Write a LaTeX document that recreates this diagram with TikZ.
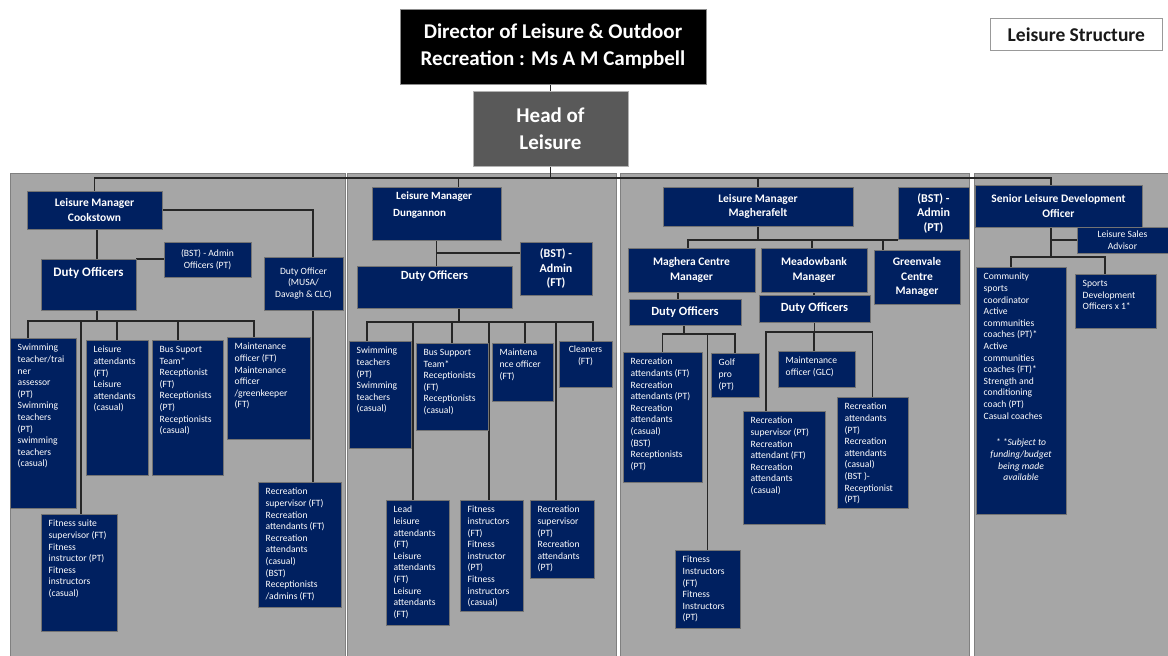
\documentclass[tikz,border=0pt]{standalone}
\usepackage{fontspec}
\setmainfont{Carlito}
\usetikzlibrary{calc}
\definecolor{navy}{HTML}{002060}
\definecolor{panelgray}{HTML}{A6A6A6}
\definecolor{headgray}{HTML}{595959}
\pgfdeclarelayer{panels}
\pgfdeclarelayer{lines}
\pgfsetlayers{panels,lines,main}
\newcommand\fSmall{\fontsize{9.6}{11.6}\selectfont}
\newcommand\fHead{\bfseries\fontsize{11.5}{14.5}\selectfont}
\newcommand\fBst{\bfseries\fontsize{12}{14.5}\selectfont}
\newcommand\fDO{\bfseries\fontsize{12.5}{15}\selectfont}
\newcommand\fBig{\bfseries\fontsize{21}{27.5}\selectfont}
\tikzset{
  bx/.style={draw=black!55, line width=0.7pt, fill=navy, inner sep=0pt, outer sep=0pt},
  txtl/.style={text=white, font=\fSmall, align=left, inner sep=0pt},
  txtc/.style={text=white, align=center, inner sep=0pt},
  cn/.style={draw=black!85, line width=1.4pt},
  panel/.style={fill=panelgray, draw=black!50, line width=0.8pt}
}
% box with left-aligned text at top
\newcommand\ob[7][]{%
  \pgfmathsetmacro\obw{#5-#3}\pgfmathsetmacro\obh{#6-#4}%
  \node[bx,#1,minimum width=\obw pt,minimum height=\obh pt,anchor=north west] (#2) at (#3,#4) {};
  \node[txtl,anchor=north west] at ([xshift=7.5pt,yshift=-6pt]#2.north west) {#7};}
% box with centred text in the middle
\newcommand\oc[8][]{%
  \pgfmathsetmacro\obw{#5-#3}\pgfmathsetmacro\obh{#6-#4}%
  \node[bx,#1,minimum width=\obw pt,minimum height=\obh pt,anchor=north west] (#2) at (#3,#4) {};
  \node[txtc,font=#7] at (#2.center) {#8};}
% box with centred text at top
\newcommand\ot[9][]{%
  \pgfmathsetmacro\obw{#5-#3}\pgfmathsetmacro\obh{#6-#4}%
  \node[bx,#1,minimum width=\obw pt,minimum height=\obh pt,anchor=north west] (#2) at (#3,#4) {};
  \node[txtc,font=#7,anchor=north] at ([yshift=-#8pt]#2.north) {#9};}
% tree connector: parent point, bar level, child, xshift at child
\newcommand\tconn[4]{\draw[cn] (#1) -- (#1 |- #2) -| ([xshift=#4pt]#3.north);}

\begin{document}
\begin{tikzpicture}[x=1pt,y=-1pt]
\useasboundingbox (0,0) rectangle (1168,656);
\begin{pgfonlayer}{panels}
  \fill[white] (0,0) rectangle (1168,656);
  \draw[panel] (10,173) rectangle (345,662);
  \draw[panel] (347.5,173) rectangle (616,662);
  \draw[panel] (620,173) rectangle (969,662);
  \draw[panel] (974,173) rectangle (1172,662);
\end{pgfonlayer}

% ---------- top ----------
\oc[fill=black,draw=black!45]{dir}{400}{9}{706}{84}{\fBig}{Director of Leisure \& Outdoor\\Recreation : Ms A M Campbell}
\oc[fill=headgray,draw=black!30]{hol}{473}{91}{628}{166}{\fBig}{Head of\\Leisure}
\node[draw=black!40, line width=0.7pt, fill=white, minimum width=172pt, minimum height=32pt, anchor=north west, inner sep=0pt] (ls) at (990,18) {};
\node[text=black!90, font=\bfseries\fontsize{19.5}{22}\selectfont, inner sep=0pt] at (ls.center) {Leisure Structure};

% ---------- Cookstown ----------
\oc{cMgr}{27}{191}{162}{229}{\fHead}{Leisure Manager\\Cookstown}
\ot{cDO}{41}{259}{136}{310}{\bfseries\fontsize{13}{15}\selectfont}{8}{Duty Officers}
\oc{cBst}{164}{242}{251}{277}{\fSmall}{(BST) - Admin\\Officers (PT)}
\oc{cMusa}{264}{257}{343}{310}{\fSmall}{Duty Officer\\(MUSA/\\Davagh \& CLC)}
\ob{cSw}{10}{338}{76}{508}{Swimming\\teacher/trai\\ner\\assessor\\(PT)\\Swimming\\teachers\\(PT)\\swimming\\teachers\\(casual)}
\ob{cLa}{86}{340}{148}{475}{Leisure\\attendants\\(FT)\\Leisure\\attendants\\(casual)}
\ob{cBus}{152}{340}{223}{475}{Bus Suport\\Team*\\Receptionist\\(FT)\\Receptionists\\(PT)\\Receptionists\\(casual)}
\ob{cMnt}{227}{337}{310}{439}{Maintenance\\officer (FT)\\Maintenance\\officer\\/greenkeeper\\(FT)}
\ob{cFit}{41}{514}{117}{631}{Fitness suite\\supervisor (FT)\\Fitness\\instructor (PT)\\Fitness\\instructors\\(casual)}
\ob{cRec}{258}{482}{341}{607}{Recreation\\supervisor (FT)\\Recreation\\attendants (FT)\\Recreation\\attendants\\(casual)\\(BST)\\Receptionists\\/admins (FT)}

% ---------- Dungannon ----------
\oc{dMgr}{372}{187}{501}{240}{\fHead}{}
\node[txtl, font=\bfseries\fontsize{11}{17}\selectfont, anchor=north west] at ([xshift=21pt,yshift=-5pt]dMgr.north west) {\hspace*{3pt}Leisure Manager\\Dungannon};
\ot{dDO}{357}{266}{512}{308}{\fDO}{5}{Duty Officers}
\oc{dBst}{520}{242}{592}{295}{\fBst}{(BST) -\\Admin\\(FT)}
\ob{dSw}{349}{341}{411}{448}{Swimming\\teachers\\(PT)\\Swimming\\teachers\\(casual)}
\ob{dBus}{416}{343}{488}{430}{Bus Support\\Team*\\Receptionists\\(FT)\\Receptionists\\(casual)}
\ob{dMnt}{492}{343}{553}{401}{Maintena\\nce officer\\(FT)}
\ot{dCl}{559}{341}{612}{387}{\fSmall}{5}{Cleaners\\(FT)}
\ob{dLead}{386}{500}{449}{625}{Lead\\leisure\\attendants\\(FT)\\Leisure\\attendants\\(FT)\\Leisure\\attendants\\(FT)}
\ob{dFit}{460}{500}{523}{611}{Fitness\\instructors\\(FT)\\Fitness\\instructor\\(PT)\\Fitness\\instructors\\(casual)}
\ob{dRec}{530}{500}{594}{578}{Recreation\\supervisor\\(PT)\\Recreation\\attendants\\(PT)}

% ---------- Magherafelt ----------
\oc{mMgr}{663}{187}{853}{226}{\fHead}{Leisure Manager\\Magherafelt}
\oc{mBst}{898}{187}{969}{239}{\fBst}{(BST) -\\Admin\\(PT)}
\oc{mMag}{628}{248}{755}{292}{\fHead}{Maghera Centre\\Manager}
\oc{mMea}{761}{248}{867}{292}{\fHead}{Meadowbank\\Manager}
\oc{mGrn}{874}{250}{960}{304}{\fHead}{Greenvale\\Centre\\Manager}
\oc{mMagDO}{629}{299}{741}{325}{\fDO}{Duty Officers}
\oc{mMeaDO}{759}{295}{870}{322}{\fDO}{Duty Officers}
\ob{mRa}{623}{352}{702}{482}{Recreation\\attendants (FT)\\Recreation\\attendants (PT)\\Recreation\\attendants\\(casual)\\(BST)\\Receptionists\\(PT)}
\ob{mGolf}{711}{353}{759}{397}{Golf\\pro\\(PT)}
\ob{mFit}{675}{550}{740}{628}{Fitness\\Instructors\\(FT)\\Fitness\\Instructors\\(PT)}
\ob{mMnt}{778}{351}{855}{387}{Maintenance\\officer (GLC)}
\ob{mRs}{743}{411}{825}{524}{Recreation\\supervisor (PT)\\Recreation\\attendant (FT)\\Recreation\\attendants\\(casual)}
\ob{mRa2}{837}{397}{908}{508}{Recreation\\attendants\\(PT)\\Recreation\\attendants\\(casual)\\(BST )-\\Receptionist\\(PT)}

% ---------- Sports development ----------
\oc{sSldo}{975}{185}{1142}{227}{\fHead}{Senior Leisure Development\\Officer}
\oc{sSales}{1077}{227}{1168}{253}{\fSmall}{Leisure Sales\\Advisor}
\ob{sCom}{976}{267}{1066}{514}{Community\\sports\\coordinator\\Active\\communities\\coaches (PT)*\\Active\\communities\\coaches (FT)*\\Strength and\\conditioning\\coach (PT)\\Casual coaches}
\node[txtc, font=\fSmall\itshape] at ([yshift=54pt]sCom.south) {* *Subject to\\funding/budget\\being made\\available};
\ob{sSpo}{1075}{274}{1156}{328}{Sports\\Development\\Officers x 1*}

% ---------- connectors ----------
\begin{pgfonlayer}{lines}
  \coordinate (topbar) at (0,178);
  \draw[cn] (hol.north |- dir.south) -- (hol.north);
  \draw[cn] (hol.south) -- (hol.south |- topbar);
  \draw[cn] (hol.south |- topbar) -| (cMgr.north);
  \draw[cn] (hol.south |- topbar) -| ([xshift=22pt]dMgr.north);
  \draw[cn] (hol.south |- topbar) -| (mMgr.north);
  \draw[cn] (hol.south |- topbar) -| ([xshift=-7.5pt]sSldo.north);

  % Cookstown
  \draw[cn] (cMgr.east) -| ([xshift=9.5pt]cMusa.north);
  \coordinate (cMgrs) at ([xshift=2.5pt]cMgr.south);
  \draw[cn] (cMgrs) -- (cMgrs |- cDO.north);
  \draw[cn] (cDO.north east) -- (cDO.north east -| cBst.west);
  \coordinate (cbar) at (0,321);
  \coordinate (cDOs) at ([xshift=8.5pt]cDO.south);
  \tconn{cDOs}{cbar}{cSw}{-15}
  \tconn{cDOs}{cbar}{cLa}{0}
  \tconn{cDOs}{cbar}{cBus}{-9.5}
  \tconn{cDOs}{cbar}{cMnt}{-14.5}
  \tconn{cDOs}{cbar}{cFit}{2}
  \coordinate (cMusas) at ([xshift=9.5pt]cMusa.south);
  \draw[cn] (cMusas) -- (cMusas |- cRec.north);

  % Dungannon
  \draw[cn] (dMgr.south) -- (dMgr.south |- dDO.north);
  \coordinate (dB) at ([yshift=15.5pt]dBst.west);
  \draw[cn] (dB) -- (dB -| dMgr.south);
  \coordinate (dbar) at (0,322);
  \coordinate (dDOs) at ([xshift=24.5pt]dDO.south);
  \tconn{dDOs}{dbar}{dSw}{-13}
  \tconn{dDOs}{dbar}{dLead}{-4.5}
  \tconn{dDOs}{dbar}{dBus}{0}
  \tconn{dDOs}{dbar}{dFit}{-2.5}
  \tconn{dDOs}{dbar}{dMnt}{2.5}
  \tconn{dDOs}{dbar}{dRec}{-6}
  \tconn{dDOs}{dbar}{dCl}{7.5}

  % Magherafelt
  \coordinate (mbar1) at (0,240);
  \tconn{mMgr.south}{mbar1}{mMag}{-3.5}
  \tconn{mMgr.south}{mbar1}{mMea}{-2}
  \tconn{mMgr.south}{mbar1}{mGrn}{-34}
  \draw[cn] (mMgr.south |- mbar1) -- (mbar1 -| mBst.south west);
  \coordinate (mMags) at ([xshift=-13.5pt]mMag.south);
  \draw[cn] (mMags) -- (mMags |- mMagDO.north);
  \draw[cn] (mMea.south) -- (mMea.south |- mMeaDO.north);
  \coordinate (mbar2) at (0,334);
  \coordinate (mMagDOs) at ([xshift=-1pt]mMagDO.south);
  \tconn{mMagDOs}{mbar2}{mRa}{0}
  \tconn{mMagDOs}{mbar2}{mFit}{0}
  \tconn{mMagDOs}{mbar2}{mGolf}{0}
  \coordinate (mbar3) at (0,332);
  \tconn{mMeaDO.south}{mbar3}{mRs}{-18}
  \tconn{mMeaDO.south}{mbar3}{mMnt}{-2.5}
  \tconn{mMeaDO.south}{mbar3}{mRa2}{0}

  % Sports development
  \coordinate (sbar) at (0,257);
  \coordinate (sS) at ([xshift=-7.5pt]sSldo.south);
  \draw[cn] (sSales.west) -- (sSales.west -| sS);
  \tconn{sS}{sbar}{sCom}{-10}
  \tconn{sS}{sbar}{sSpo}{-10.5}
\end{pgfonlayer}
\end{tikzpicture}
\end{document}
